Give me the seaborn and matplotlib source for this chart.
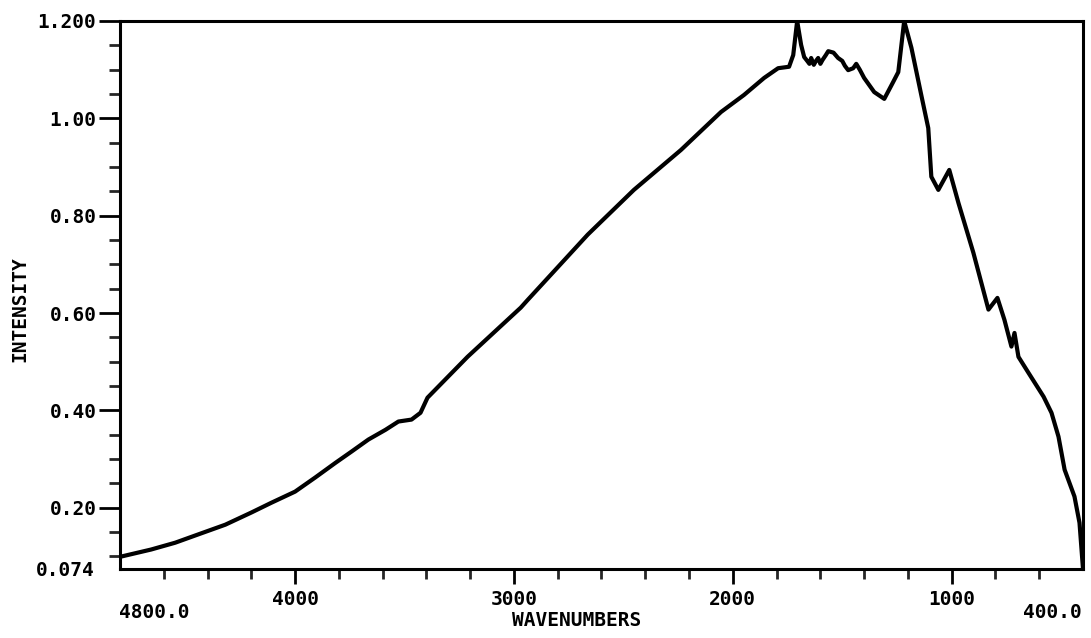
import numpy as np
import pandas as pd
import matplotlib
matplotlib.use("Agg")
import matplotlib.pyplot as plt
import seaborn as sns
from matplotlib.ticker import FixedLocator

# Spectrum: wavenumber (cm^-1) and measured intensity
wavenumber = [4800, 4658, 4548, 4443, 4319, 4200, 4109, 4000, 3908, 3816, 3743,
              3665, 3587, 3528, 3468, 3427, 3395,
              3212, 2969, 2937, 2663, 2452, 2237, 2054, 1949, 1857, 1793, 1743,
              1724, 1706, 1688, 1674, 1660, 1650, 1642, 1630, 1620, 1610, 1600,
              1590, 1575, 1564, 1540, 1519, 1500, 1488, 1473, 1450, 1436, 1420,
              1400, 1354, 1308, 1267, 1244, 1217, 1184, 1139, 1107, 1093, 1061,
              1011, 969, 901, 832, 791, 759, 727, 713, 695, 649, 580, 544, 512,
              484, 439, 416, 400]
intensity = [0.099, 0.114, 0.128, 0.145, 0.165, 0.190, 0.210, 0.233, 0.262, 0.292, 0.315,
             0.340, 0.360, 0.377, 0.381, 0.395, 0.426,
             0.510, 0.611, 0.627, 0.761, 0.853, 0.935, 1.013, 1.048, 1.083, 1.103, 1.106,
             1.130, 1.200, 1.151, 1.126, 1.118, 1.112, 1.124, 1.110, 1.118, 1.124, 1.112,
             1.120, 1.130, 1.138, 1.135, 1.124, 1.118, 1.108, 1.099, 1.103, 1.112, 1.100,
             1.083, 1.054, 1.040, 1.075, 1.095, 1.200, 1.145, 1.048, 0.980, 0.880, 0.853,
             0.894, 0.826, 0.724, 0.607, 0.631, 0.586, 0.531, 0.559, 0.510, 0.477, 0.428, 0.395, 0.346,
             0.278, 0.223, 0.169, 0.074]

y_major = [0.20, 0.40, 0.60, 0.80, 1.00, 1.20]
y_major_labels = ["0.20", "0.40", "0.60", "0.80", "1.00", "1.200"]
x_major = [4000, 3000, 2000, 1000]
x_major_labels = ["4000", "3000", "2000", "1000"]

df = pd.DataFrame({"WAVENUMBERS": wavenumber, "INTENSITY": intensity})

sns.set_theme(style="ticks")
plt.rcParams["font.family"] = ["DejaVu Sans Mono", "DejaVu Sans"]
plt.rcParams["font.weight"] = "bold"

W, H = 1091, 638
fig = plt.figure(figsize=(W / 100, H / 100), dpi=100)
ax = fig.add_axes([120 / W, 1 - 569 / H, (1083 - 120) / W, (569 - 21) / H])

sns.lineplot(data=df, x="WAVENUMBERS", y="INTENSITY", ax=ax, color="black",
             linewidth=3.0, sort=False, estimator=None)

ax.set_xlim(4800, 400)
ax.set_ylim(0.074, 1.2)

for s in ax.spines.values():
    s.set_linewidth(2.2)
    s.set_color("black")

ax.set_yticks(y_major)
ax.set_yticklabels(y_major_labels)
ax.yaxis.set_minor_locator(FixedLocator([v / 100 for v in range(10, 120, 5) if v % 20 != 0]))
ax.set_xticks(x_major)
ax.set_xticklabels(x_major_labels)
ax.xaxis.set_minor_locator(FixedLocator([v for v in range(600, 4800, 200) if v % 1000 != 0]))

ax.tick_params(axis="y", which="major", length=15, width=2, direction="out", pad=2,
               labelsize=14, colors="black")
ax.tick_params(axis="y", which="minor", length=8, width=2, direction="out")
ax.tick_params(axis="x", which="major", length=11, width=2, direction="out", pad=4,
               labelsize=14, colors="black")
ax.tick_params(axis="x", which="minor", length=7, width=2, direction="out")
for lab in ax.get_xticklabels() + ax.get_yticklabels():
    lab.set_fontweight("bold")

ax.set_xlabel("")
ax.set_ylabel("")

def ftext(px, py, s, **kw):
    fig.text(px / W, 1 - py / H, s, fontsize=14, fontweight="bold", color="black", **kw)

ftext(95, 570, "0.074", ha="right", va="center")
ftext(154, 613, "4800.0", ha="center", va="center")
ftext(1052, 613, "400.0", ha="center", va="center")
ftext(577, 621, "WAVENUMBERS", ha="center", va="center")
ftext(20, 309, "INTENSITY", ha="center", va="center", rotation=90)

fig.savefig("out.png", dpi=100, facecolor="white")
